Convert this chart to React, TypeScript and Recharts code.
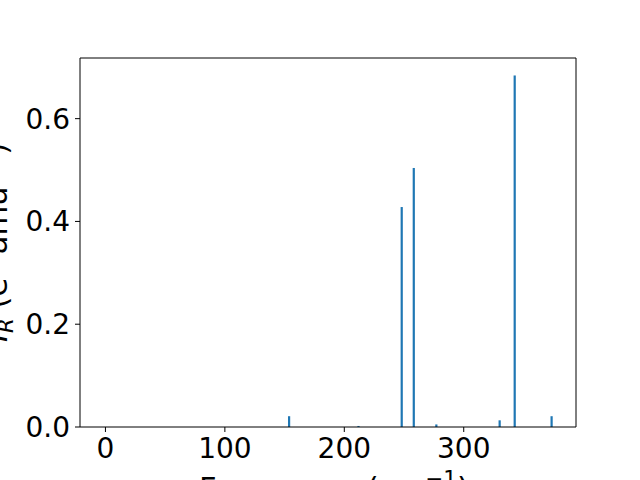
import * as React from "react";
import {
  ComposedChart,
  Bar,
  XAxis,
  YAxis,
  Label,
  ReferenceLine,
} from "recharts";

// vibrational modes: frequency (cm^-1) and IR intensity
const frequencies = [153.8, 211.9, 248.1, 258.2, 277.1, 330.1, 342.7, 373.6];
const intensities = [0.021, 0.002, 0.428, 0.504, 0.005, 0.013, 0.684, 0.021];
const xTicks = [0, 100, 200, 300];
const yTicks = [0, 0.2, 0.4, 0.6];

const X_DOMAIN: [number, number] = [-21.3, 394];
const Y_DOMAIN: [number, number] = [0, 0.718];

const FONT = "DejaVu Sans";
const BAR_COLOR = "#1f77b4";
const BAR_PX = 2.2;

const data = frequencies.map((f, i) => ({ freq: f, ir: intensities[i] }));

function XLabel(props: any) {
  const vb = props.viewBox;
  const cx = vb.x + vb.width / 2 + 6;
  return (
    <text x={cx} y={499} textAnchor="middle" fontFamily={FONT} fontSize={30.6} fill="#000">
      Frequency (cm
      <tspan dy={-13.5} fontSize={21.4}>−1</tspan>
      <tspan dy={13.5} fontSize={30.6}>)</tspan>
    </text>
  );
}

function YLabel(props: any) {
  const vb = props.viewBox;
  const cy = vb.y + vb.height / 2;
  const x = 7;
  return (
    <text
      x={x}
      y={cy}
      transform={`rotate(-90, ${x}, ${cy})`}
      textAnchor="middle"
      fontFamily={FONT}
      fontSize={30.6}
      fill="#000"
    >
      <tspan fontStyle="italic">I</tspan>
      <tspan fontStyle="italic" fontSize={21.4} dy={6}>R</tspan>
      <tspan dy={-6}> (e</tspan>
      <tspan dy={-13.5} fontSize={21.4}>2</tspan>
      <tspan dy={13.5}> amu</tspan>
      <tspan dy={-13.5} fontSize={21.4}>−1</tspan>
      <tspan dy={13.5}>)</tspan>
    </text>
  );
}

// thin stick centred on the bar position the library computed
function Stick(props: any) {
  const { x, y, width, height } = props;
  if (height == null || height <= 0) return null;
  const cx = x + width / 2;
  return <rect x={cx - BAR_PX / 2} y={y} width={BAR_PX} height={height} fill={BAR_COLOR} />;
}

export default function App() {
  const tick = { fill: "#000", fontSize: 28, fontFamily: FONT };
  return (
    <div style={{ position: "absolute", left: 0, top: 0, width: 640, height: 480, background: "#fff" }}>
      <ComposedChart
        width={640}
        height={480}
        data={data}
        margin={{ top: 58, right: 64, bottom: 0, left: 0 }}
      >
        <XAxis
          dataKey="freq"
          type="number"
          domain={X_DOMAIN}
          ticks={xTicks}
          allowDataOverflow
          height={53}
          tick={tick}
          tickSize={5}
          tickMargin={6}
          stroke="#000"
          tickLine={{ stroke: "#000" }}
        >
          <Label content={<XLabel />} />
        </XAxis>
        <YAxis
          type="number"
          domain={Y_DOMAIN}
          ticks={yTicks}
          allowDataOverflow
          width={80}
          tick={tick}
          tickSize={5}
          tickMargin={5}
          tickFormatter={(v: number) => v.toFixed(1)}
          stroke="#000"
          tickLine={{ stroke: "#000" }}
        >
          <Label content={<YLabel />} />
        </YAxis>
        <ReferenceLine y={Y_DOMAIN[1]} stroke="#000" ifOverflow="visible" />
        <ReferenceLine x={X_DOMAIN[1]} stroke="#000" ifOverflow="visible" />
        <Bar
          dataKey="ir"
          fill={BAR_COLOR}
          barSize={2}
          shape={<Stick />}
          isAnimationActive={false}
        />
      </ComposedChart>
    </div>
  );
}
